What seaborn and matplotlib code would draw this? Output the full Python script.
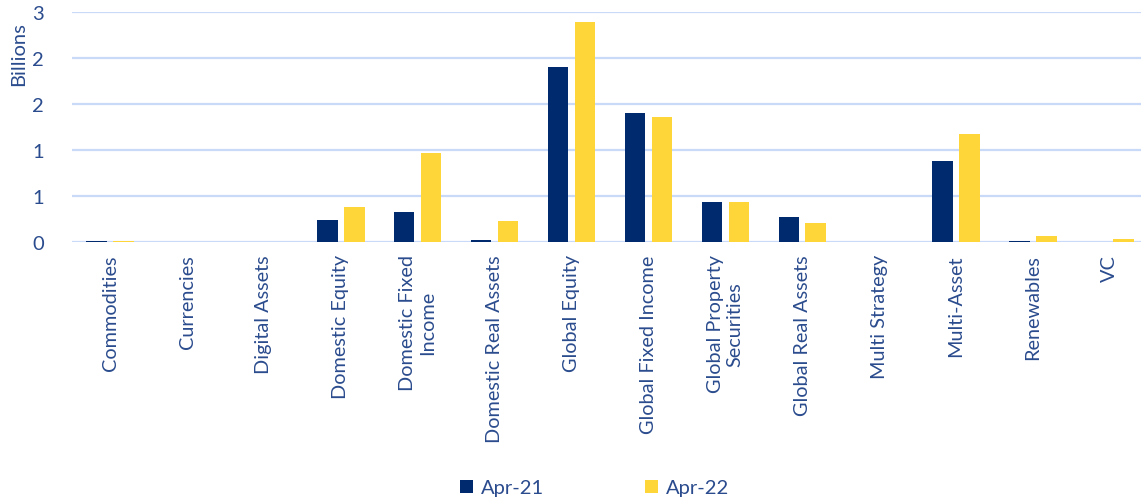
import matplotlib
matplotlib.use("Agg")
import matplotlib.pyplot as plt
import seaborn as sns
import pandas as pd

categories = ["Commodities", "Currencies", "Digital Assets", "Domestic Equity",
              "Domestic Fixed\nIncome", "Domestic Real Assets", "Global Equity",
              "Global Fixed Income", "Global Property\nSecurities", "Global Real Assets",
              "Multi Strategy", "Multi-Asset", "Renewables", "VC"]
apr21 = [0.005, 0.0, 0.0, 0.234, 0.32, 0.016, 1.895, 1.40, 0.434, 0.265, 0.0, 0.874, 0.008, 0.0]
apr22 = [0.004, 0.0, 0.0, 0.378, 0.96, 0.22, 2.385, 1.36, 0.434, 0.207, 0.0, 1.17, 0.06, 0.03]
series_names = ["Apr-21", "Apr-22"]
ytick_values = [0, 0.5, 1.0, 1.5, 2.0, 2.5]
ytick_labels = ["0", "1", "1", "2", "2", "3"]

df = pd.DataFrame({
    "Category": categories * 2,
    "Value": apr21 + apr22,
    "Period": [series_names[0]] * len(categories) + [series_names[1]] * len(categories),
})

sns.set_theme(style="white")
plt.rcParams["font.family"] = ["Lato", "DejaVu Sans"]
TXT = "#2A4B8D"
GRID = "#C9DAF8"
colors = {"Apr-21": "#002A6E", "Apr-22": "#FFD63A"}

fig = plt.figure(figsize=(11.41, 5.02), dpi=100)
ax = fig.add_axes([0.0628, 0.5165, 0.9436, 0.4582])

sns.barplot(data=df, x="Category", y="Value", hue="Period", palette=colors,
            width=0.7, gap=0.24, ax=ax, linewidth=0, saturation=1, zorder=3)

ax.set_xlim(-0.5, 13.5)
ax.set_ylim(0, 2.5)
ax.set_yticks(ytick_values)
ax.set_yticklabels(ytick_labels, fontsize=14.5, color=TXT)
ax.yaxis.grid(True, color=GRID, linewidth=1.6, zorder=0)
ax.set_axisbelow(True)
for s in ax.spines.values():
    s.set_visible(False)
ax.tick_params(axis="y", length=0, pad=20)
ax.tick_params(axis="x", length=0, pad=9)
ax.set_xticks(range(len(categories)))
ax.set_xticklabels(categories, rotation=90, fontsize=14.3, color=TXT,
                   ha="center", va="top", multialignment="center")
ax.set_xlabel("")
ax.set_ylabel("")

fig.text(0.016, 0.893, "Billions", rotation=90, ha="center", va="center",
         fontsize=14.5, color=TXT)

handles, labels = ax.get_legend_handles_labels()
if ax.get_legend() is not None:
    ax.get_legend().remove()
leg = fig.legend(handles, labels, loc="center", bbox_to_anchor=(0.521, 0.026),
                 ncol=2, frameon=False, fontsize=14.5, handlelength=0.65,
                 handleheight=0.65, handletextpad=0.4, columnspacing=5.0)
for t in leg.get_texts():
    t.set_color(TXT)

fig.savefig("out.png", dpi=100)
